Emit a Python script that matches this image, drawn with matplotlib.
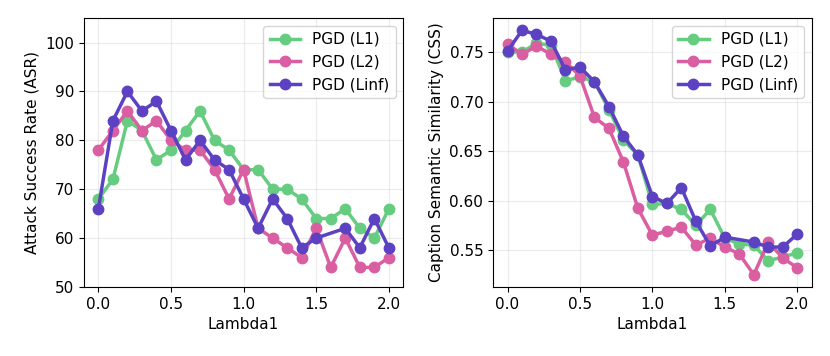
import matplotlib
matplotlib.use("Agg")
import matplotlib.pyplot as plt

# Lambda1 values (Linf run has no 1.6 point)
lam = [0.0, 0.1, 0.2, 0.3, 0.4, 0.5, 0.6, 0.7, 0.8, 0.9, 1.0,
       1.1, 1.2, 1.3, 1.4, 1.5, 1.6, 1.7, 1.8, 1.9, 2.0]
lam_inf = [0.0, 0.1, 0.2, 0.3, 0.4, 0.5, 0.6, 0.7, 0.8, 0.9, 1.0,
           1.1, 1.2, 1.3, 1.4, 1.5, 1.7, 1.8, 1.9, 2.0]

# Attack success rate
asr_l1 = [68, 72, 84, 82, 76, 78, 82, 86, 80, 78, 74,
          74, 70, 70, 68, 64, 64, 66, 62, 60, 66]
asr_l2 = [78, 82, 86, 82, 84, 80, 78, 78, 74, 68, 74,
          62, 60, 58, 56, 62, 54, 60, 54, 54, 56]
asr_linf = [66, 84, 90, 86, 88, 82, 76, 80, 76, 74, 68,
            62, 68, 64, 58, 60, 62, 58, 64, 58]

# Caption semantic similarity
css_l1 = [0.750, 0.750, 0.759, 0.757, 0.721, 0.725, 0.720, 0.692, 0.661, 0.646, 0.596,
          0.597, 0.591, 0.575, 0.591, 0.562, 0.556, 0.555, 0.539, 0.543, 0.547]
css_l2 = [0.758, 0.748, 0.756, 0.748, 0.740, 0.726, 0.684, 0.673, 0.639, 0.592, 0.565,
          0.569, 0.573, 0.555, 0.562, 0.553, 0.546, 0.525, 0.558, 0.542, 0.532]
css_linf = [0.751, 0.772, 0.768, 0.761, 0.732, 0.735, 0.720, 0.695, 0.665, 0.646, 0.604,
            0.597, 0.613, 0.579, 0.554, 0.563, 0.558, 0.553, 0.553, 0.566]

labels = ["PGD (L1)", "PGD (L2)", "PGD (Linf)"]
colors = ["#66cc80", "#d95ea2", "#5c42c2"]

plt.rcParams["font.size"] = 11

fig = plt.figure(figsize=(8.3, 3.56), dpi=100)
ax1 = fig.add_axes([0.101, 0.194, 0.385, 0.755])
ax2 = fig.add_axes([0.594, 0.194, 0.384, 0.755])

for ax, series in [(ax1, [asr_l1, asr_l2, asr_linf]), (ax2, [css_l1, css_l2, css_linf])]:
    xs = [lam, lam, lam_inf]
    for x, y, lab, c in zip(xs, series, labels, colors):
        ax.plot(x, y, marker="o", color=c, label=lab, linewidth=2.5, markersize=7.5)
    ax.set_xlabel("Lambda1")
    ax.set_xticks([0.0, 0.5, 1.0, 1.5, 2.0])
    ax.grid(True, alpha=0.25)
    ax.legend(loc="upper right")

ax1.set_ylim(50, 105)
ax1.set_ylabel("Attack Success Rate (ASR)")
ax2.set_ylabel("Caption Semantic Similarity (CSS)")

fig.savefig("out.png", dpi=100)
